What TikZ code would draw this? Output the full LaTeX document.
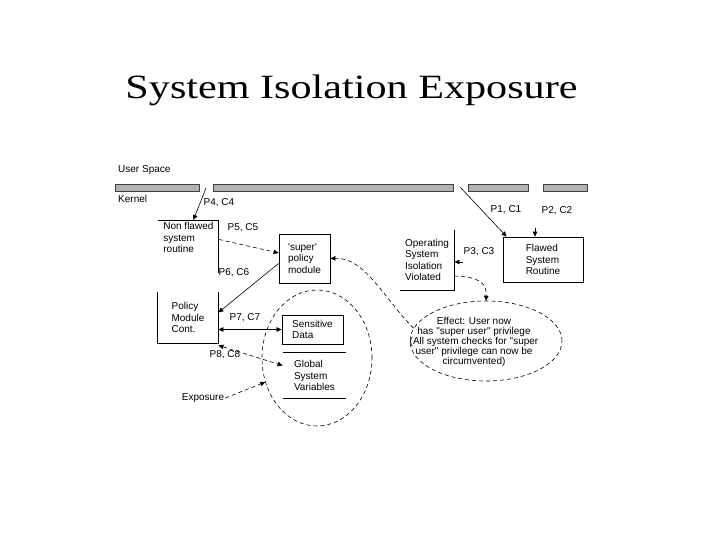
\documentclass[tikz,border=0pt]{standalone}
\usepackage{fontspec}
\setmainfont{Liberation Serif}
\newfontfamily\diagfont{Liberation Sans}
\usetikzlibrary{arrows.meta,positioning,shapes.geometric}

\begin{document}
\begin{tikzpicture}[
  x=1pt, y=-1pt,
  every node/.style={font=\diagfont\fontsize{10}{11.5}\selectfont},
  lbl/.style={inner sep=1pt},
  box/.style={align=left, inner sep=0pt, line width=0.8pt},
  bar/.style={draw=black!75, fill=black!30, line width=0.6pt, minimum height=7pt, inner sep=0pt},
  arrow/.style={-{Triangle[length=5pt,width=4.5pt]}, line width=0.6pt},
  dasharrow/.style={arrow, dash pattern=on 4pt off 3pt},
  twoway/.style={{Triangle[length=5pt,width=4.5pt]}-{Triangle[length=5pt,width=4.5pt]}, line width=0.6pt},
  zone/.style={draw, ellipse, dash pattern=on 4pt off 3pt, line width=0.6pt, inner sep=0pt}
]
\useasboundingbox (0,0) rectangle (720,540);

% title
\node[anchor=base, font=\rmfamily\fontsize{34}{40}\selectfont] (title) at (351.5,99) {\scalebox{1.24}[1]{System Isolation Exposure}};

% user space / kernel boundary
\node[anchor=west, lbl] (user) at (117,170) {User Space};
\node[anchor=west, lbl] (kernel) at (117,199) {Kernel};
\node[bar, minimum width=84pt] (bar1) at (157,187.5) {};
\node[bar, minimum width=240pt] (bar2) at (333,187.5) {};
\node[bar, minimum width=60pt] (bar3) at (498,187.5) {};
\node[bar, minimum width=44pt] (bar4) at (565,187.5) {};
\coordinate (gap12) at (206,188);
\coordinate (gap23) at (460,187);

% boxes
\node[box, anchor=north west, minimum width=60pt, minimum height=35pt] (nonflawed) at (158,220) {Non flawed\\system\\routine};
\draw[line width=0.8pt] (nonflawed.north west) -- (nonflawed.north east) -- ([yshift=-53pt]nonflawed.north east);
\node[box, draw, minimum width=51pt, minimum height=49pt] (super) at (304.5,258.5) {'super'\\policy\\module};
\node[box, minimum width=60pt, minimum height=51pt] (policy) at (188,317.5) {Policy\\Module\\Cont.};
\draw[line width=0.8pt] (policy.north west) -- (policy.south west) -- (policy.south east) -- (policy.north east);
\node[box, draw, minimum width=61pt, minimum height=29pt] (sensitive) at (312.5,329.5) {Sensitive\\Data};
\node[box, minimum width=63pt, minimum height=45pt] (global) at (314.5,375.5) {Global\\System\\Variables};
\draw[line width=0.8pt] (global.north west) -- (global.north east);
\draw[line width=0.8pt] (global.south west) -- (global.south east);
\node[box, minimum width=54pt, minimum height=60pt] (os) at (427,260) {Operating\\System\\Isolation\\Violated};
\draw[line width=0.8pt] (os.north east) -- (os.south east) -- (os.south west);
\node[box, draw, minimum width=80pt, minimum height=45pt] (flawed) at (543,259.5) {Flawed\\System\\Routine};

% dashed regions
\node[zone, minimum width=110pt, minimum height=136pt] (exposed) at (317,358) {};
\node[zone, minimum width=152pt, minimum height=80pt] (effect) at (486,341) {};
\node[align=center, inner sep=0pt, font=\diagfont\fontsize{10}{10}\selectfont] (effecttxt) at (474,342) {Effect: User now\\has "super user" privilege\\(All system checks for "super\\user" privilege can now be\\circumvented)};
\node[lbl] (exposure) at (203,398) {Exposure};

% path labels
\node[lbl] (p1) at (506,210) {P1, C1};
\node[lbl] (p2) at (557,211) {P2, C2};
\node[lbl] (p3) at (479,252) {P3, C3};
\node[lbl] (p4) at (219,203) {P4, C4};
\node[lbl] (p5) at (243,228) {P5, C5};
\node[lbl] (p6) at (234,273) {P6, C6};
\node[lbl] (p7) at (245,318) {P7, C7};
\node[lbl] (p8) at (225,355) {P8, C8};

% connectors
\coordinate (p2top) at (535,228);
\coordinate (p3tail) at (463,262);
\draw[arrow] (gap12) -- ([xshift=5pt]nonflawed.north);
\draw[arrow] (gap23) -- ([xshift=4pt]flawed.north west);
\draw[arrow] (p2top) -- (p2top |- flawed.north);
\draw[arrow] (p3tail) -- (p3tail -| os.east);
\draw[dasharrow] ([yshift=-1.5pt]nonflawed.east) -- ([yshift=5.5pt]super.west);
\draw[arrow] ([yshift=-5pt]super.west) -- ([yshift=5pt]policy.east);
\draw[twoway] (sensitive.west -| policy.east) -- (sensitive.west);
\draw[twoway, dash pattern=on 4pt off 3pt] ([yshift=-2pt]policy.south east) -- ([yshift=10pt]global.west);
\draw[dasharrow] (exposure.east) -- (exposed.205);
\draw[dasharrow] (effect.170) .. controls (385,300) and (365,257) .. (super.east);
\draw[dasharrow] ([yshift=-16pt]os.east) .. controls (478,277) and (487,282) .. (effect.north);
\end{tikzpicture}
\end{document}
